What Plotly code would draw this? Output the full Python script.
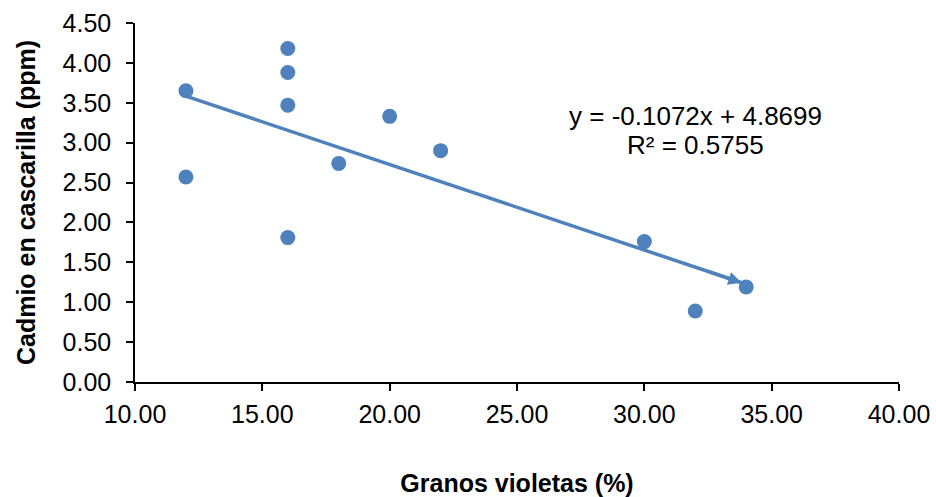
import plotly.graph_objects as go

# Violet beans (%) vs cadmium in husk (ppm)
granos_violetas = [12, 12, 16, 16, 16, 16, 18, 20, 22, 30, 32, 34]
cadmio = [3.65, 2.57, 4.18, 3.88, 3.47, 1.81, 2.74, 3.33, 2.90, 1.76, 0.89, 1.19]

# Linear trend fitted to the data
pendiente = -0.1072
intercepto = 4.8699
r2 = 0.5755


def tendencia(x):
    return pendiente * x + intercepto


trend_x = [min(granos_violetas), max(granos_violetas)]
trend_y = [tendencia(x) for x in trend_x]

x_ticks = [10, 15, 20, 25, 30, 35, 40]
y_ticks = [0, 0.5, 1.0, 1.5, 2.0, 2.5, 3.0, 3.5, 4.0, 4.5]

BLUE = "#4F81BD"
FONT = "Liberation Sans, Arial, sans-serif"

fig = go.Figure()

# Trend line (drawn under the data points)
fig.add_trace(go.Scatter(
    x=trend_x, y=trend_y,
    mode="lines",
    line=dict(color=BLUE, width=3.5),
    hoverinfo="skip",
    showlegend=False,
))

fig.add_trace(go.Scatter(
    x=granos_violetas, y=cadmio,
    mode="markers",
    marker=dict(color=BLUE, size=15, line=dict(width=0)),
    showlegend=False,
))

# Arrow head at the end of the trend line
tail_x = trend_x[1] - 1.5
fig.add_annotation(
    x=trend_x[1], y=trend_y[1], ax=tail_x, ay=tendencia(tail_x),
    xref="x", yref="y", axref="x", ayref="y",
    text="", showarrow=True, arrowhead=2, arrowsize=0.75, arrowwidth=3.5,
    arrowcolor=BLUE, standoff=5,
)

eq_text = f"y = {pendiente:.4f}x + {intercepto:.4f}"
r2_text = f"R² = {r2:.4f}"
fig.add_annotation(x=32.0, y=3.34, xref="x", yref="y", text=eq_text,
                   showarrow=False, font=dict(family=FONT, size=26, color="#000000"))
fig.add_annotation(x=32.0, y=2.97, xref="x", yref="y", text=r2_text,
                   showarrow=False, font=dict(family=FONT, size=26, color="#000000"))

axis_common = dict(
    showgrid=False, zeroline=False, automargin=False,
    showline=True, linecolor="#000000", linewidth=1.5,
    ticks="outside", ticklen=7, tickwidth=1.5, tickcolor="#000000",
    tickfont=dict(family=FONT, size=25, color="#000000"),
    tickformat=".2f",
)

fig.update_xaxes(
    range=[10, 40], tickvals=x_ticks, ticklabelstandoff=2,
    title=dict(text="<b>Granos violetas (%)</b>", standoff=50,
               font=dict(family=FONT, size=25, color="#000000")),
    **axis_common,
)
fig.update_yaxes(
    range=[0, 4.5], tickvals=y_ticks, ticklabelstandoff=10,
    title=dict(text="<b>Cadmio en cascarilla (ppm)</b>", standoff=20,
               font=dict(family=FONT, size=25, color="#000000")),
    **axis_common,
)

fig.update_layout(
    width=936, height=497,
    margin=dict(l=135, r=37, t=23, b=115),
    paper_bgcolor="#FFFFFF", plot_bgcolor="#FFFFFF",
    font=dict(family=FONT),
)

fig.write_html("out.html")
